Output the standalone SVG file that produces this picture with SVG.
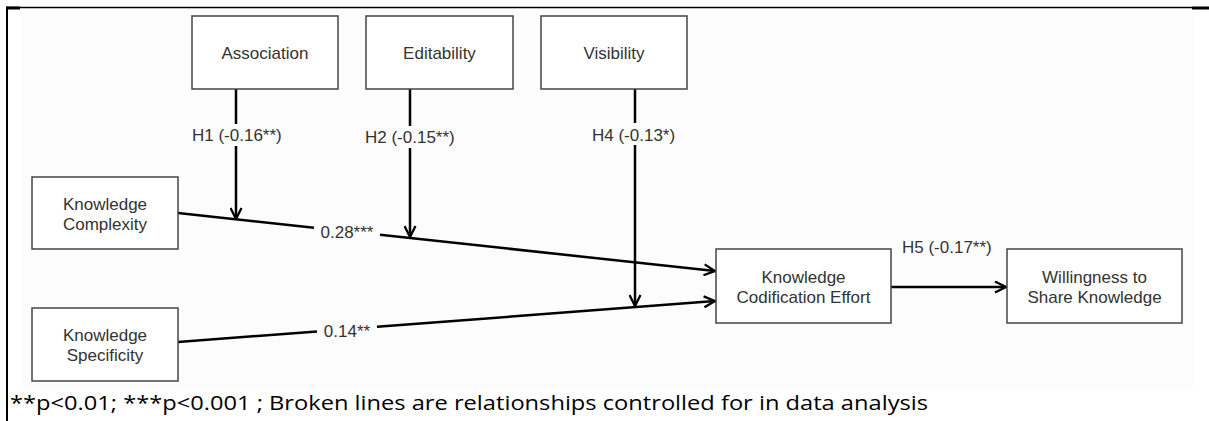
<svg xmlns="http://www.w3.org/2000/svg" width="1209" height="421" viewBox="0 0 1209 421">
  <defs>
    <style>
      .node rect { fill: #ffffff; stroke: #444444; stroke-width: 1.5; }
      .node text, .lbl { font-family: "Liberation Sans", Arial, sans-serif; font-size: 17px; fill: #333333; text-anchor: middle; }
      .lbl.start { text-anchor: start; }
      .conn line { stroke: #000000; stroke-width: 2.5; fill: none; }
      .frame { stroke: #000000; fill: none; }
      .foot { font-family: "Open Sans", "Liberation Sans", sans-serif; font-size: 19.5px; fill: #000000; }
    </style>
    <marker id="arr" viewBox="0 0 13 13" refX="12" refY="6.5" markerWidth="13" markerHeight="13" markerUnits="userSpaceOnUse" orient="auto">
      <path d="M1,1 L12,6.5 L1,12" fill="none" stroke="#000000" stroke-width="2.3" stroke-linejoin="miter"/>
    </marker>
  </defs>
  <rect x="0" y="0" width="1209" height="421" fill="#ffffff"/>
  <rect x="22" y="10" width="1172" height="380" fill="#fcfcfc"/>

  <g id="frame">
    <line class="frame" x1="7" y1="7.5" x2="1192" y2="7.5" stroke-width="1.5"/>
    <line class="frame" x1="7" y1="8" x2="20" y2="8" stroke-width="3"/>
    <line class="frame" x1="1192" y1="8" x2="1209" y2="8" stroke-width="3"/>
    <line class="frame" x1="7" y1="6.5" x2="7" y2="421" stroke-width="2"/>
  </g>

  <g id="connectors" class="conn">
    <line x1="236" y1="89" x2="236" y2="124"/>
    <line x1="236" y1="146" x2="236" y2="219" marker-end="url(#arr)"/>
    <line x1="410" y1="89" x2="410" y2="126"/>
    <line x1="410" y1="148" x2="410" y2="237" marker-end="url(#arr)"/>
    <line x1="635" y1="89" x2="635" y2="123"/>
    <line x1="635" y1="145" x2="635" y2="306" marker-end="url(#arr)"/>
    <line x1="178" y1="213" x2="314" y2="227.7"/>
    <line x1="380" y1="234.8" x2="715" y2="271" marker-end="url(#arr)"/>
    <line x1="178" y1="342" x2="317" y2="331.4"/>
    <line x1="377" y1="326.8" x2="715" y2="301" marker-end="url(#arr)"/>
    <line x1="891" y1="287" x2="1006" y2="287" marker-end="url(#arr)"/>
  </g>

  <g id="labels">
    <text class="lbl start" x="192" y="141">H1 (-0.16**)</text>
    <text class="lbl start" x="365" y="143">H2 (-0.15**)</text>
    <text class="lbl start" x="592" y="141">H4 (-0.13*)</text>
    <text class="lbl start" x="902" y="253">H5 (-0.17**)</text>
    <text class="lbl" x="347" y="238">0.28***</text>
    <text class="lbl" x="347" y="337">0.14**</text>
  </g>

  <g id="association" class="node">
    <rect x="192" y="16" width="146" height="73"/>
    <text x="265" y="58.5">Association</text>
  </g>
  <g id="editability" class="node">
    <rect x="366" y="16" width="147" height="73"/>
    <text x="439.5" y="58.5">Editability</text>
  </g>
  <g id="visibility" class="node">
    <rect x="541" y="16" width="146" height="73"/>
    <text x="614" y="58.5">Visibility</text>
  </g>
  <g id="knowledge-complexity" class="node">
    <rect x="32" y="177" width="146" height="72"/>
    <text x="105" y="210">Knowledge</text>
    <text x="105" y="230">Complexity</text>
  </g>
  <g id="knowledge-specificity" class="node">
    <rect x="32" y="308" width="146" height="73"/>
    <text x="105" y="341">Knowledge</text>
    <text x="105" y="361">Specificity</text>
  </g>
  <g id="knowledge-codification-effort" class="node">
    <rect x="716" y="249" width="175" height="74"/>
    <text x="803.5" y="283">Knowledge</text>
    <text x="803.5" y="303">Codification Effort</text>
  </g>
  <g id="willingness-to-share" class="node">
    <rect x="1007" y="249" width="175" height="74"/>
    <text x="1094.5" y="283">Willingness to</text>
    <text x="1094.5" y="303">Share Knowledge</text>
  </g>

  <text class="foot" x="10" y="410" textLength="918" lengthAdjust="spacingAndGlyphs">**p&lt;0.01; ***p&lt;0.001 ; Broken lines are relationships controlled for in data analysis</text>
</svg>
